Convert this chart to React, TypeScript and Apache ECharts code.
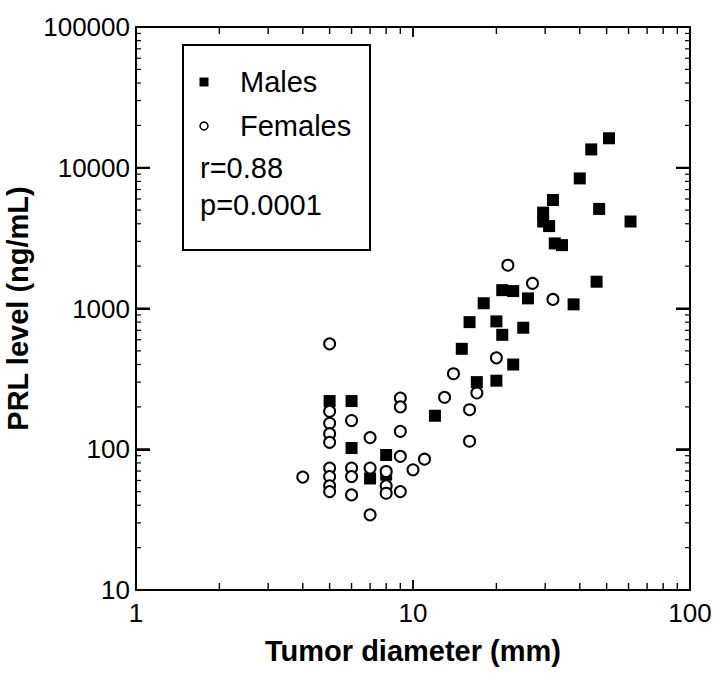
import React, { useEffect, useRef } from "react";
import * as echarts from "echarts";

// ---- data ----
const maleDiameter = [51, 44, 40, 32, 47, 61, 29.5, 29.5, 31, 32.5, 34.5, 46, 38, 21, 23, 26, 18, 16, 20, 21, 25, 15, 23, 17, 20, 12, 6, 5, 6, 8, 8, 7];
const maleLevel = [16200, 13500, 8400, 5900, 5100, 4150, 4800, 4150, 3850, 2900, 2820, 1550, 1070, 1350, 1330, 1180, 1090, 800, 810, 650, 730, 517, 400, 300, 307, 173, 220, 220, 102, 91, 66, 62];

const femaleDiameter = [32, 22, 27, 20, 14, 17, 13, 9, 9, 16, 6, 7, 9, 16, 5, 5, 5, 5, 5, 5, 5, 5, 5, 6, 6, 6, 7, 7, 8, 8, 8, 9, 9, 10, 11, 4];
const femaleLevel = [1160, 2030, 1510, 446, 344, 251, 234, 231, 200, 191, 160, 121, 134, 114, 561, 186, 153, 129, 112, 73.5, 64, 55, 50, 73.5, 64, 47.4, 73.5, 34.2, 69.5, 55, 48.7, 89, 50, 71.5, 85, 63.4];

const xTickLabels = [1, 10, 100];
const yTickLabels = [10, 100, 1000, 10000, 100000];
const xMinorTicks = [2, 3, 4, 5, 6, 7, 8, 9, 20, 30, 40, 50, 60, 70, 80, 90];
const yMinorTicks = [20, 30, 40, 50, 60, 70, 80, 90, 200, 300, 400, 500, 600, 700, 800, 900, 2000, 3000, 4000, 5000, 6000, 7000, 8000, 9000, 20000, 30000, 40000, 50000, 60000, 70000, 80000, 90000];

const statR = "r=0.88";
const statP = "p=0.0001";

const FONT = "Liberation Sans, Arial, Helvetica, sans-serif";

export default function App() {
  const ref = useRef<HTMLDivElement>(null);

  useEffect(() => {
    if (!ref.current) return;
    const chart = echarts.init(ref.current, undefined, { renderer: "svg" });

    const males = maleDiameter.map((d, i) => [d, maleLevel[i]]);
    const females = femaleDiameter.map((d, i) => [d, femaleLevel[i]]);
    const xMin = xTickLabels[0];
    const xMax = xTickLabels[xTickLabels.length - 1];
    const yMin = yTickLabels[0];
    const yMax = yTickLabels[yTickLabels.length - 1];
    const plain = (v: number) => String(Math.round(v));
    const mkAxisLine = () => ({ show: true, lineStyle: { color: "#000", width: 2 } });
    const mkTick = (len: number, w: number) => ({ show: true, inside: true, length: len, lineStyle: { color: "#000", width: w } });

    const legendGraphics: any[] = [
      { type: "rect", shape: { x: 183, y: 45, width: 187, height: 205 }, style: { fill: "#fff", stroke: "#000", lineWidth: 2 }, z: 10 },
      { type: "rect", shape: { x: 199.5, y: 77.5, width: 9, height: 9 }, style: { fill: "#000" }, z: 11 },
      { type: "circle", shape: { cx: 204, cy: 126, r: 4 }, style: { fill: "#fff", stroke: "#000", lineWidth: 1.5 }, z: 11 },
      { type: "text", x: 240, y: 82, style: { text: "Males", fontSize: 29, fontFamily: FONT, fill: "#000", verticalAlign: "middle" }, z: 11 },
      { type: "text", x: 240, y: 126, style: { text: "Females", fontSize: 29, fontFamily: FONT, fill: "#000", verticalAlign: "middle" }, z: 11 },
      { type: "text", x: 200, y: 168, style: { text: statR, fontSize: 29, fontFamily: FONT, fill: "#000", verticalAlign: "middle" }, z: 11 },
      { type: "text", x: 200, y: 205, style: { text: statP, fontSize: 29, fontFamily: FONT, fill: "#000", verticalAlign: "middle" }, z: 11 },
    ];

    chart.setOption({
      animation: false,
      grid: { left: 136, right: 25, top: 27, bottom: 87, containLabel: false, outerBoundsMode: "none" },
      xAxis: [
        {
          type: "log", logBase: 10, min: xMin, max: xMax, position: "bottom",
          axisLine: mkAxisLine(), axisTick: mkTick(10, 1.5),
          axisLabel: { fontSize: 26, color: "#000", fontFamily: FONT, margin: 10, formatter: plain },
          splitLine: { show: false },
          name: "Tumor diameter (mm)", nameLocation: "middle", nameGap: 46,
          nameTextStyle: { fontSize: 29, fontWeight: "bold", color: "#000", fontFamily: FONT },
        },
        {
          type: "log", logBase: 10, min: xMin, max: xMax, position: "top",
          axisLine: mkAxisLine(), axisTick: mkTick(10, 1.5), axisLabel: { show: false }, splitLine: { show: false },
        },
      ],
      yAxis: [
        {
          type: "log", logBase: 10, min: yMin, max: yMax, position: "left",
          axisLine: mkAxisLine(), axisTick: mkTick(14, 2),
          axisLabel: { fontSize: 26, color: "#000", fontFamily: FONT, margin: 6, formatter: plain },
          splitLine: { show: false },
          name: "PRL level (ng/mL)", nameLocation: "middle", nameGap: 96,
          nameTextStyle: { fontSize: 29, fontWeight: "bold", color: "#000", fontFamily: FONT },
        },
        {
          type: "log", logBase: 10, min: yMin, max: yMax, position: "right",
          axisLine: mkAxisLine(), axisTick: mkTick(14, 2), axisLabel: { show: false }, splitLine: { show: false },
        },
      ],
      series: [
        { type: "scatter", name: "Males", data: males, symbol: "rect", symbolSize: 12, itemStyle: { color: "#000", opacity: 1 } },
        { type: "scatter", name: "Females", data: females, symbol: "circle", symbolSize: 11, itemStyle: { color: "#fff", borderColor: "#000", borderWidth: 2, opacity: 1 } },
      ],
      graphic: legendGraphics,
    });

    // tick marks as thin filled bars, positioned through the axes' own scales
    const px = (v: number) => chart.convertToPixel({ xAxisIndex: 0 }, v) as number;
    const py = (v: number) => chart.convertToPixel({ yAxisIndex: 0 }, v) as number;
    const L = px(xMin), R = px(xMax), T = py(yMax), B = py(yMin);
    const bars: any[] = [];
    const bar = (x: number, y: number, width: number, height: number) =>
      bars.push({ type: "rect", shape: { x, y, width, height }, style: { fill: "#000" }, z: 20, silent: true });
    xTickLabels.forEach((v) => { const x = px(v); bar(x - 0.75, B - 10, 1.5, 10); bar(x - 0.75, T, 1.5, 10); });
    xMinorTicks.forEach((v) => { const x = px(v); bar(x - 0.7, B - 7, 1.4, 7); bar(x - 0.7, T, 1.4, 7); });
    yTickLabels.forEach((v) => { const y = py(v); bar(L, y - 1, 14, 2); bar(R - 14, y - 1, 14, 2); });
    yMinorTicks.forEach((v) => { const y = py(v); bar(L, y - 0.6, 5, 1.2); bar(R - 5, y - 0.6, 5, 1.2); });
    chart.setOption({ graphic: [...legendGraphics, ...bars] });

    return () => chart.dispose();
  }, []);

  return (
    <div style={{ position: "absolute", left: 0, top: 0, width: 715, height: 677, background: "#fff" }}>
      <div ref={ref} style={{ width: 715, height: 677 }} />
    </div>
  );
}
